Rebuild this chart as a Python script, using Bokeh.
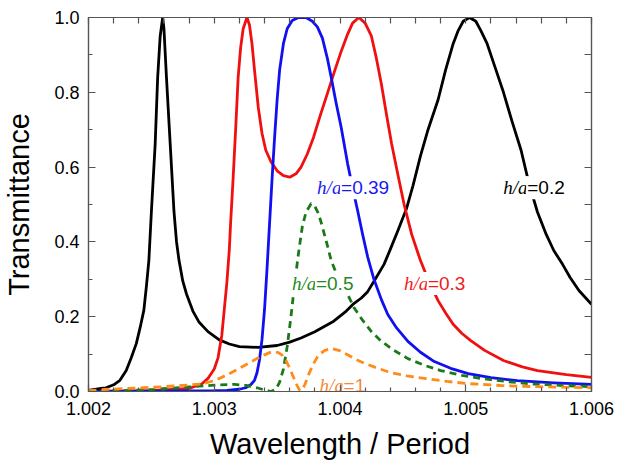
from bokeh.plotting import figure
from bokeh.models import LinearAxis, FixedTicker, PrintfTickFormatter, ColumnDataSource
from bokeh.core.properties import value
from bokeh.embed import file_html
from bokeh.resources import INLINE

# ---- data ----
black_x = [1.00200, 1.00210, 1.00214, 1.00220, 1.00225, 1.00230, 1.00234, 1.00238, 1.00241, 1.00244,
           1.00246, 1.00248, 1.00250, 1.00253, 1.00255, 1.00257, 1.00259, 1.00260, 1.00262, 1.00265,
           1.00268, 1.00270, 1.00272, 1.00275, 1.00278, 1.00283, 1.00288, 1.00295, 1.00304, 1.00312,
           1.00320, 1.00335, 1.00350, 1.00360, 1.00369, 1.00380, 1.00395, 1.00405, 1.00411, 1.00417,
           1.00422, 1.00428, 1.00435, 1.00440, 1.00446, 1.00453, 1.00458, 1.00464, 1.00470, 1.00478,
           1.00484, 1.00490, 1.00494, 1.00498, 1.00503, 1.00508, 1.00512, 1.00517, 1.00523, 1.00530,
           1.00537, 1.00544, 1.00550, 1.00557, 1.00564, 1.00570, 1.00577, 1.00583, 1.00590, 1.00600]
black_y = [0.003, 0.008, 0.010, 0.018, 0.030, 0.056, 0.090, 0.128, 0.170, 0.217,
           0.280, 0.350, 0.480, 0.660, 0.840, 0.950, 1.000, 0.970, 0.840, 0.660,
           0.480, 0.400, 0.350, 0.295, 0.260, 0.215, 0.185, 0.160, 0.138, 0.127,
           0.120, 0.118, 0.123, 0.132, 0.143, 0.160, 0.188, 0.215, 0.235, 0.250,
           0.267, 0.300, 0.340, 0.380, 0.430, 0.490, 0.550, 0.630, 0.700, 0.780,
           0.860, 0.930, 0.965, 0.990, 1.000, 0.990, 0.965, 0.930, 0.870, 0.800,
           0.720, 0.645, 0.560, 0.480, 0.420, 0.377, 0.340, 0.305, 0.270, 0.233]

red_x = [1.00200, 1.00250, 1.00280, 1.00290, 1.00295, 1.00300, 1.00303, 1.00306, 1.00308, 1.00310,
         1.00312, 1.00313, 1.00315, 1.00317, 1.00319, 1.00321, 1.00323, 1.00326, 1.00328, 1.00330,
         1.00332, 1.00335, 1.00338, 1.00341, 1.00345, 1.00350, 1.00355, 1.00360, 1.00365, 1.00369,
         1.00374, 1.00379, 1.00384, 1.00390, 1.00396, 1.00401, 1.00406, 1.00410, 1.00415, 1.00420,
         1.00425, 1.00429, 1.00433, 1.00437, 1.00441, 1.00446, 1.00451, 1.00457, 1.00464, 1.00470,
         1.00478, 1.00484, 1.00490, 1.00497, 1.00504, 1.00515, 1.00530, 1.00545, 1.00557, 1.00580,
         1.00600]
red_y = [0.000, 0.002, 0.008, 0.020, 0.035, 0.060, 0.090, 0.150, 0.220, 0.290,
         0.380, 0.450, 0.570, 0.700, 0.840, 0.920, 0.970, 1.000, 0.980, 0.930,
         0.860, 0.760, 0.690, 0.645, 0.615, 0.590, 0.577, 0.573, 0.582, 0.600,
         0.635, 0.680, 0.735, 0.797, 0.860, 0.910, 0.955, 0.985, 1.000, 0.985,
         0.950, 0.890, 0.820, 0.740, 0.663, 0.580, 0.500, 0.420, 0.350, 0.300,
         0.243, 0.210, 0.180, 0.155, 0.136, 0.110, 0.083, 0.066, 0.056, 0.045,
         0.038]

blue_x = [1.00200, 1.00300, 1.00310, 1.00320, 1.00325, 1.00329, 1.00332, 1.00334, 1.00336, 1.00338,
          1.00340, 1.00342, 1.00344, 1.00346, 1.00348, 1.00350, 1.00352, 1.00355, 1.00358, 1.00362,
          1.00367, 1.00373, 1.00378, 1.00382, 1.00386, 1.00390, 1.00393, 1.00397, 1.00401, 1.00406,
          1.00410, 1.00414, 1.00418, 1.00422, 1.00427, 1.00433, 1.00438, 1.00445, 1.00454, 1.00464,
          1.00475, 1.00488, 1.00502, 1.00520, 1.00541, 1.00570, 1.00600]
blue_y = [0.000, 0.002, 0.003, 0.006, 0.010, 0.018, 0.030, 0.050, 0.085, 0.140,
          0.220, 0.330, 0.450, 0.570, 0.680, 0.780, 0.860, 0.930, 0.970, 0.992,
          1.000, 1.000, 0.990, 0.975, 0.945, 0.890, 0.840, 0.770, 0.705, 0.610,
          0.545, 0.484, 0.420, 0.360, 0.300, 0.245, 0.206, 0.170, 0.134, 0.105,
          0.080, 0.062, 0.048, 0.037, 0.029, 0.023, 0.019]

green_x = [1.00200, 1.00250, 1.00280, 1.00300, 1.00316, 1.00326, 1.00334, 1.00340, 1.00345, 1.00349,
           1.00352, 1.00355, 1.00358, 1.00361, 1.00364, 1.00367, 1.00370, 1.00373, 1.00377, 1.00380,
           1.00383, 1.00386, 1.00390, 1.00393, 1.00399, 1.00406, 1.00411, 1.00417, 1.00425, 1.00433,
           1.00443, 1.00454, 1.00467, 1.00480, 1.00497, 1.00514, 1.00534, 1.00554, 1.00577, 1.00600]
green_y = [0.000, 0.005, 0.012, 0.017, 0.019, 0.016, 0.010, 0.004, 0.000, 0.006,
           0.025, 0.060, 0.120, 0.200, 0.290, 0.370, 0.440, 0.480, 0.502, 0.495,
           0.475, 0.440, 0.390, 0.350, 0.300, 0.260, 0.225, 0.195, 0.160, 0.134,
           0.110, 0.088, 0.070, 0.056, 0.043, 0.034, 0.026, 0.020, 0.016, 0.013]

orange_x = [1.00200, 1.00210, 1.00230, 1.00250, 1.00270, 1.00290, 1.00301, 1.00311, 1.00320, 1.00327,
            1.00334, 1.00340, 1.00344, 1.00348, 1.00351, 1.00354, 1.00357, 1.00360, 1.00363, 1.00366,
            1.00368, 1.00370, 1.00372, 1.00375, 1.00379, 1.00383, 1.00388, 1.00393, 1.00399, 1.00406,
            1.00412, 1.00419, 1.00430, 1.00440, 1.00453, 1.00467, 1.00485, 1.00502, 1.00528, 1.00554,
            1.00600]
orange_y = [0.002, 0.005, 0.008, 0.011, 0.015, 0.020, 0.030, 0.046, 0.062, 0.075,
            0.088, 0.098, 0.104, 0.106, 0.104, 0.097, 0.083, 0.062, 0.038, 0.015,
            0.003, 0.004, 0.018, 0.045, 0.075, 0.098, 0.110, 0.115, 0.110, 0.098,
            0.087, 0.076, 0.062, 0.051, 0.042, 0.035, 0.027, 0.021, 0.016, 0.013,
            0.010]

x_ticks = [1.002, 1.003, 1.004, 1.005, 1.006]
x_minor = [1.0022, 1.0024, 1.0026, 1.0028, 1.0032, 1.0034, 1.0036, 1.0038,
           1.0042, 1.0044, 1.0046, 1.0048, 1.0052, 1.0054, 1.0056, 1.0058]
y_ticks = [0.0, 0.2, 0.4, 0.6, 0.8, 1.0]
y_minor = [0.1, 0.3, 0.5, 0.7, 0.9]

label_x = [1.00529, 1.00450, 1.00381, 1.00361, 1.00383]
label_y = [0.545, 0.289, 0.545, 0.289, 0.016]
label_italic = ["h/a", "h/a", "h/a", "h/a", "h/a"]
label_value = ["=0.2", "=0.3", "=0.39", "=0.5", "=1"]
label_color = ["#000000", "#f01a1a", "#1a1af0", "#238a23", "#f5883a"]

# ---- figure ----
p = figure(width=616, height=462, x_range=(1.002, 1.006), y_range=(0, 1),
           output_backend="svg", toolbar_location=None,
           min_border_left=87, min_border_right=25, min_border_top=17, min_border_bottom=71,
           x_axis_label="Wavelength / Period", y_axis_label="Transmittance")
p.grid.visible = False
p.outline_line_color = "#555555"
p.outline_line_width = 1.2
p.background_fill_color = "white"
p.border_fill_color = "white"

AX = "#555555"

def style(ax):
    ax.axis_line_color = AX
    ax.axis_line_width = 1.2
    ax.major_tick_line_color = AX
    ax.minor_tick_line_color = AX
    ax.major_tick_line_width = 1.2
    ax.minor_tick_line_width = 1.2
    ax.major_tick_in = 7
    ax.major_tick_out = 0
    ax.minor_tick_in = 4
    ax.minor_tick_out = 0
    ax.major_label_text_font = "Liberation Sans"
    ax.major_label_text_font_size = "18px"
    ax.major_label_text_color = "black"
    ax.axis_label_text_font = "Liberation Sans"
    ax.axis_label_text_font_size = "29px"
    ax.axis_label_text_font_style = "normal"
    ax.axis_label_text_color = "black"

xa = p.xaxis[0]
xa.ticker = FixedTicker(ticks=x_ticks, minor_ticks=x_minor)
xa.formatter = PrintfTickFormatter(format="%.3f")
style(xa)
xa.major_label_standoff = 10
xa.axis_label_standoff = 10

ya = p.yaxis[0]
ya.ticker = FixedTicker(ticks=y_ticks, minor_ticks=y_minor)
ya.formatter = PrintfTickFormatter(format="%.1f")
style(ya)
ya.major_label_standoff = 9
ya.axis_label_standoff = 16

# mirrored tick marks on top and right (no labels)
top = LinearAxis(ticker=FixedTicker(ticks=[], minor_ticks=x_ticks + x_minor))
style(top)
top.minor_tick_in = 6
p.add_layout(top, "above")
right = LinearAxis(ticker=FixedTicker(ticks=[], minor_ticks=y_ticks + y_minor))
style(right)
right.minor_tick_in = 7
p.add_layout(right, "right")

# ---- curves ----
lw = 2.8
p.line(black_x, black_y, line_color="#000000", line_width=lw, line_join="round")
p.line(red_x, red_y, line_color="#f01010", line_width=lw, line_join="round")
p.line(blue_x, blue_y, line_color="#1010f0", line_width=lw, line_join="round")
p.line(green_x, green_y, line_color="#1a7a1a", line_width=lw, line_dash="7 5", line_join="round")
p.line(orange_x, orange_y, line_color="#ff8c1a", line_width=lw, line_dash="8 5", line_join="round")

# ---- labels ----
src = ColumnDataSource(dict(x=label_x, y=label_y, it=label_italic, val=label_value, c=label_color))
p.text(x="x", y="y", text="it", source=src, text_color="c",
       text_font=value("Liberation Serif"), text_font_style="italic",
       text_font_size="19px", text_baseline="alphabetic", text_align="left",
       background_fill_color="white", padding=1)
p.text(x="x", y="y", text="val", source=src, text_color="c",
       text_font=value("Liberation Sans"), text_font_size="19px",
       text_baseline="alphabetic", text_align="left", x_offset=24,
       background_fill_color="white", padding=1)

open("out.html", "w").write(file_html(p, INLINE))
